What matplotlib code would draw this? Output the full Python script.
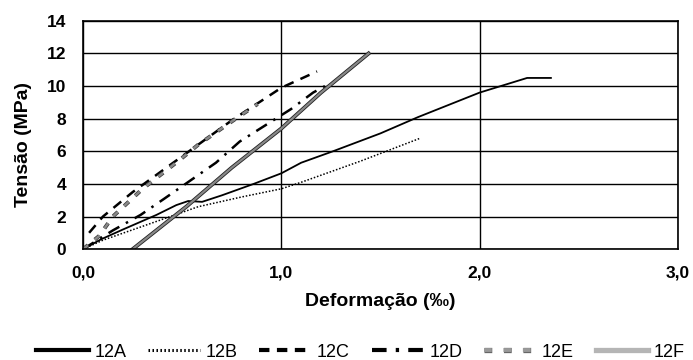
import matplotlib.pyplot as plt
import matplotlib.patheffects as pe
from matplotlib.lines import Line2D

plt.rcParams['font.family'] = ['Liberation Sans', 'DejaVu Sans']

# strain (permil) / stress (MPa)
a_x = [0.0, 0.09, 0.2, 0.37, 0.47, 0.53, 0.6, 0.7, 0.86, 1.0, 1.1, 1.26, 1.5, 1.69, 2.0, 2.24, 2.36]
a_y = [0.0, 0.6, 1.2, 2.1, 2.7, 2.95, 2.9, 3.3, 4.0, 4.65, 5.3, 6.0, 7.1, 8.1, 9.6, 10.5, 10.5]
b_x = [0.0, 0.1, 0.3, 0.58, 0.8, 1.0, 1.1, 1.4, 1.7]
b_y = [0.0, 0.55, 1.4, 2.6, 3.2, 3.7, 4.1, 5.4, 6.8]
c_x = [0.03, 0.1, 0.25, 0.5, 0.75, 1.0, 1.18]
c_y = [1.0, 2.0, 3.5, 5.7, 7.9, 9.9, 10.9]
d_x = [0.0, 0.15, 0.29, 0.41, 0.54, 0.67, 0.79, 0.92, 1.05, 1.16, 1.22]
d_y = [0.0, 1.15, 2.1, 3.1, 4.2, 5.3, 6.6, 7.6, 8.6, 9.6, 10.0]
e_x = [0.0, 0.08, 0.15, 0.3, 0.49, 0.58, 0.77, 0.88]
e_y = [0.0, 0.8, 2.0, 3.7, 5.5, 6.4, 8.0, 8.9]
f_x = [0.25, 0.52, 0.75, 1.0, 1.2, 1.44]
f_y = [0.0, 2.6, 5.0, 7.4, 9.6, 12.0]
labels = ['12A', '12B', '12C', '12D', '12E', '12F']

fig = plt.figure(figsize=(6.93, 3.6), dpi=100)
ax = fig.add_axes([0.12, 0.308, 0.858, 0.634])

ax.plot(a_x, a_y, color='black', lw=1.3)
ax.plot(b_x, b_y, color='black', lw=1.1, ls=(0, (1, 1.2)))
ax.plot(c_x, c_y, color='black', lw=1.8, ls=(0, (4, 3)))
ax.plot(d_x, d_y, color='black', lw=1.8, ls=(0, (5, 3, 1, 3)))
ax.plot(e_x, e_y, color='#888888', lw=1.8, ls=(0, (2.5, 3.5)),
        path_effects=[pe.Stroke(linewidth=2.8, foreground='#333333'), pe.Normal()])
ax.plot(f_x, f_y, color='#888888', lw=1.6,
        path_effects=[pe.Stroke(linewidth=2.8, foreground='#222222'), pe.Normal()])

ax.set_xlim(0, 3)
ax.set_ylim(0, 14)
ax.set_xticks([0, 1, 2, 3])
ax.set_xticklabels(['0,0', '1,0', '2,0', '3,0'])
ax.set_yticks(range(0, 15, 2))
ax.tick_params(length=0, labelsize=12.5, pad=12)
for t in ax.get_xticklabels() + ax.get_yticklabels():
    t.set_fontweight('bold')
ax.grid(color='black', lw=1)
ax.set_axisbelow(True)
for s in ax.spines.values():
    s.set_linewidth(1.2)

ax.set_xlabel('Deformação (‰)', fontsize=14, fontweight='bold', va='center')
ax.set_ylabel('Tensão (MPa)', fontsize=14, fontweight='bold', va='center')
ax.xaxis.set_label_coords(0.5, -0.228)
ax.yaxis.set_label_coords(-0.101, 0.46)

handles = [
    Line2D([], [], color='black', lw=3),
    Line2D([], [], color='black', lw=2.2, ls=(0, (0.5, 0.8))),
    Line2D([], [], color='black', lw=3, ls=(0, (2.5, 1.8))),
    Line2D([], [], color='black', lw=3, ls=(0, (3.5, 2.2, 0.8, 2.2))),
    Line2D([], [], color='#999999', lw=2.8, ls=(0, (2, 3)),
           path_effects=[pe.Stroke(linewidth=3.8, foreground='#666666'), pe.Normal()]),
    Line2D([], [], color='#b5b5b5', lw=3.8),
]
fig.legend(handles, labels, loc='center', bbox_to_anchor=(0.52, 0.022), ncol=6,
           frameon=False, fontsize=13, handlelength=2.9, columnspacing=1.2,
           handletextpad=0.3)

fig.savefig('out.png', dpi=100)
